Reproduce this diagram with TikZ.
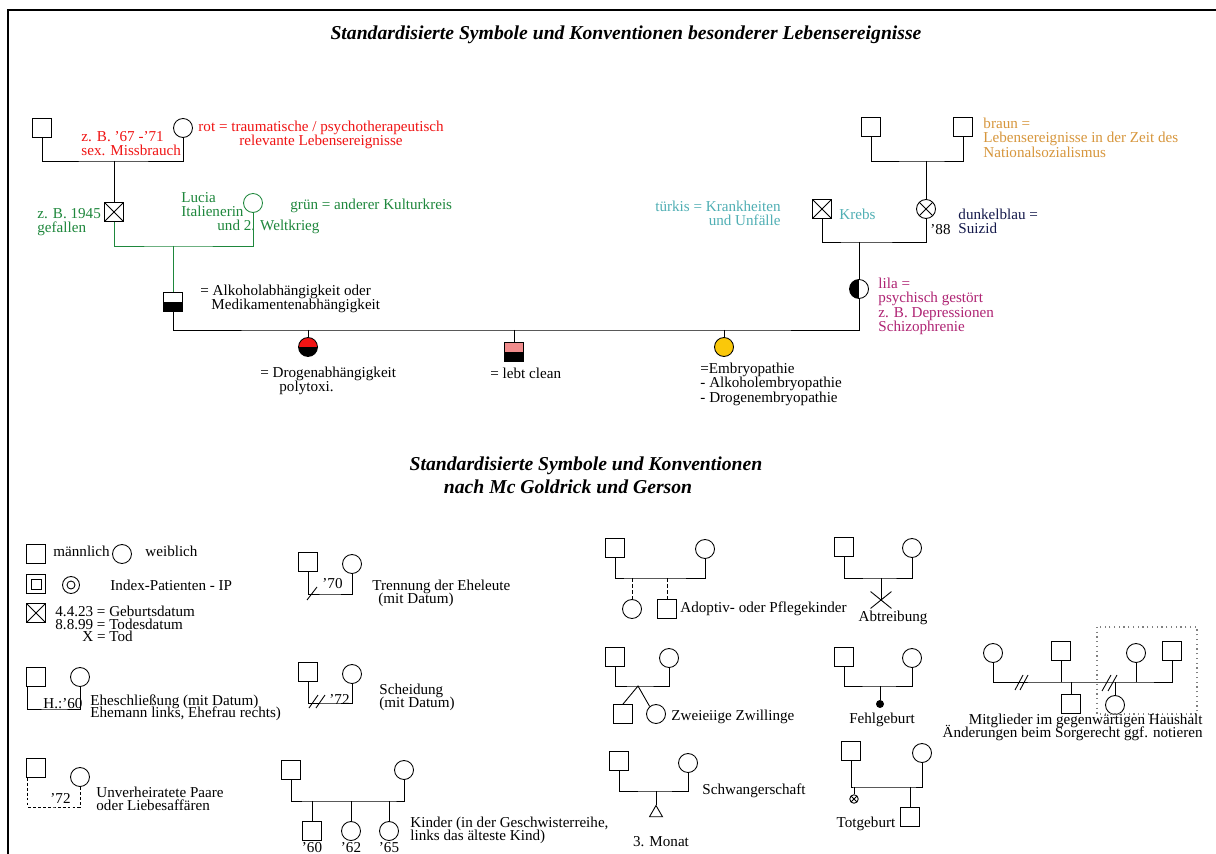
\documentclass[tikz,border=0pt]{standalone}
\usepackage{fontspec}
\setmainfont{Liberation Serif}
\usetikzlibrary{shapes.geometric,shapes.misc}
\definecolor{rot}{RGB}{240,20,20}
\definecolor{gruen}{RGB}{30,135,60}
\definecolor{tuerkis}{RGB}{80,175,180}
\definecolor{dunkelblau}{RGB}{20,25,75}
\definecolor{lila}{RGB}{175,35,115}
\definecolor{braun}{RGB}{215,150,60}
\definecolor{rosa}{RGB}{240,140,140}
\definecolor{gelb}{RGB}{250,200,10}
\newcommand\legfont{\fontsize{8.6}{7.1}\selectfont\lineskiplimit-3pt\relax}

\begin{document}
\begin{tikzpicture}
  [x=0.02cm,y=-0.02cm,line width=0.5pt,
   every node/.style={inner sep=0pt},
   male/.style={draw,rectangle,minimum size=0.38cm},
   female/.style={draw,circle,minimum size=0.38cm},
   crossed/.style={path picture={\draw (path picture bounding box.north west) -- (path picture bounding box.south east)
     (path picture bounding box.north east) -- (path picture bounding box.south west);}},
   alk/.style={path picture={\fill (path picture bounding box.west) rectangle (path picture bounding box.south east);}},
   drogen/.style={path picture={\fill[rot] (path picture bounding box.north west) rectangle (path picture bounding box.east);
     \fill (path picture bounding box.west) rectangle (path picture bounding box.south east);}},
   clean/.style={path picture={\fill[rosa] (path picture bounding box.north west) rectangle (path picture bounding box.east);
     \fill (path picture bounding box.west) rectangle (path picture bounding box.south east);}},
   psych/.style={path picture={\fill (path picture bounding box.north west) rectangle (path picture bounding box.south);}},
   ipm/.style={path picture={\draw (path picture bounding box.center) +(-0.1cm,-0.1cm) rectangle +(0.1cm,0.1cm);}},
   ipw/.style={path picture={\draw (path picture bounding box.center) circle (0.08cm);}},
   txt/.style={font=\fontsize{8.6}{8}\selectfont,align=left},
   leg/.style={font=\legfont,align=left},
   titel/.style={font=\fontsize{11.2}{13}\selectfont\bfseries\itshape},
   lose/.style={dash pattern=on 1.6pt off 1.2pt}]

  \useasboundingbox (0,0) rectangle (1216,854);
  \fill[white] (0,0) rectangle (1216,854);
  \draw[line width=1.6pt] (8,854) -- (8,10) -- (1216,10);

  \node[titel] (t1) at (626,35) {Standardisierte Symbole und Konventionen besonderer Lebensereignisse};
  \node[titel] (t2) at (586,466) {Standardisierte Symbole und Konventionen};
  \node[titel] (t3) at (568,487) {nach Mc Goldrick und Gerson};

  % Lebensereignisse
  \node[male] (gv1) at (42,128) {};
  \node[female] (gm1) at (183,128) {};
  \coordinate (e1) at (114,161);
  \node[male,crossed] (v1) at (114,212) {};
  \node[female,draw=gruen] (m1) at (253,203) {};
  \coordinate (e2) at (173,246);
  \node[male,alk] (s1) at (173,302) {};
  \draw (gv1.south) |- (e1) -| (gm1.south);
  \draw (e1) -- (v1.north);
  \draw[gruen] (v1.south) |- (e2) -| (m1.south);
  \draw[gruen] (e2) -- (s1.north);

  \node[male] (gv2) at (871,127) {};
  \node[male] (gv3) at (963,127) {};
  \coordinate (e6) at (926,161);
  \node[female,crossed] (m2) at (926,209) {};
  \node[male,crossed] (v2) at (822,209) {};
  \coordinate (e7) at (859,242);
  \node[female,psych] (li) at (859,289) {};
  \draw (gv2.south) |- (e6) -| (gv3.south);
  \draw (e6) -- (m2.north);
  \draw (v2.south) |- (e7) -| (m2.south);
  \draw (e7) -- (li.north);

  \coordinate (k1) at (308,330);
  \coordinate (k2) at (514,330);
  \coordinate (k3) at (724,330);
  \node[female,drogen] (c1) at (308,347) {};
  \node[male,clean] (c2) at (514,352) {};
  \node[female,fill=gelb] (c3) at (724,347) {};
  \draw (s1.south) |- (k1) -- (k2) -- (k3) -| (li.south);
  \foreach \from/\to in {k1/c1,k2/c2,k3/c3}
    \draw (\from) -- (\to.north);

  \node[txt,rot,anchor=north west] (l1) at (81,131) {z. B. '67 -'71\\sex. Missbrauch};
  \node[txt,rot,anchor=north west,align=center] (l2) at (198,121) {rot = traumatische / psychotherapeutisch\\relevante Lebensereignisse};
  \node[txt,gruen,anchor=north west] (l3) at (37,208) {z. B. 1945\\gefallen};
  \node[txt,gruen,anchor=north west] (l4) at (181,192) {Lucia\\Italienerin};
  \node[txt,gruen,anchor=west] (l5) at (217,227) {und 2. Weltkrieg};
  \node[txt,gruen,anchor=west] (l6) at (290,206) {grün = anderer Kulturkreis};
  \node[txt,anchor=north west] (l7) at (200,285) {= Alkoholabhängigkeit oder\\\hspace*{0.22cm}Medikamentenabhängigkeit};
  \node[txt,anchor=north west] (l8) at (260,367) {= Drogenabhängigkeit\\\hspace*{0.38cm}polytoxi.};
  \node[txt,anchor=west] (l9) at (490,373) {= lebt clean};
  \node[txt,anchor=north west] (l10) at (700,363) {=Embryopathie\\- Alkoholembryopathie\\- Drogenembryopathie};
  \node[txt,tuerkis,anchor=north east,align=right] (l11) at (781,201) {türkis = Krankheiten\\und Unfälle};
  \node[txt,tuerkis,anchor=west] (l12) at (839,214) {Krebs};
  \node[txt,anchor=west] (l13) at (930,230) {'88};
  \node[txt,dunkelblau,anchor=north west] (l14) at (958,209) {dunkelblau =\\Suizid};
  \node[txt,lila,anchor=north west] (l15) at (878,278) {lila =\\psychisch gestört\\z. B. Depressionen\\Schizophrenie};
  \node[txt,braun,anchor=north west] (l16) at (983,118) {braun =\\Lebensereignisse in der Zeit des\\Nationalsozialismus};

  % Mc Goldrick und Gerson
  \node[male] (lm) at (36,554) {};
  \node[female] (lw) at (122,554) {};
  \node[male,ipm] (pm) at (36,584) {};
  \node[female,ipw,minimum size=0.34cm] (pw) at (71,585) {};
  \node[male,crossed] (td) at (36,613) {};
  \node[leg,anchor=west] (g1) at (53,551) {männlich};
  \node[leg,anchor=west] (g2) at (145,551) {weiblich};
  \node[leg,anchor=west] (g3) at (110,585) {Index-Patienten - IP};
  \node[leg,anchor=north west] (g4) at (55,606) {4.4.23 = Geburtsdatum\\8.8.99 = Todesdatum\\\hspace*{0.54cm}X = Tod};

  \node[male] (hm) at (36,677) {};
  \node[female] (hw) at (80,677) {};
  \coordinate (h1) at (55,709);
  \draw ([xshift=1pt]hm.south west) |- (h1) -| (hw.south);
  \node[leg,anchor=base west] (g5) at (43,708) {H.:'60};
  \node[leg,anchor=north west] (g6) at (90,694) {Eheschließung (mit Datum)\\Ehemann links, Ehefrau rechts)};

  \node[male] (um) at (36,768) {};
  \node[female] (uw) at (80,777) {};
  \coordinate (u1) at (55,807);
  \draw[lose] ([xshift=1pt]um.south west) |- (u1) -| (uw.south);
  \node[leg,anchor=west] (g7) at (50,798) {'72};
  \node[leg,anchor=north west] (g8) at (96,787) {Unverheiratete Paare\\oder Liebesaffären};

  \node[male] (tm) at (308,562) {};
  \node[female] (tw) at (352,564) {};
  \coordinate (r1) at (330,594);
  \draw (tm.south) |- (r1) -| (tw.south);
  \draw (307,600) -- (317,587);
  \node[leg,anchor=west] (g9) at (322,584) {'70};
  \node[leg,anchor=north west] (g10) at (372,580) {Trennung der Eheleute\\\hspace*{0.12cm}(mit Datum)};

  \node[male] (sm) at (308,672) {};
  \node[female] (sw) at (352,674) {};
  \coordinate (r2) at (330,703);
  \draw (sm.south) |- (r2) -| (sw.south);
  \draw (309,708) -- (318,695) (316,708) -- (325,695);
  \node[leg,anchor=west] (g11) at (329,699) {'72};
  \node[leg,anchor=north west] (g12) at (379,684) {Scheidung\\(mit Datum)};

  \node[male] (km) at (291,770) {};
  \node[female] (kw) at (404,770) {};
  \coordinate (q1) at (312,801);
  \coordinate (q2) at (351,801);
  \coordinate (q3) at (389,801);
  \node[male] (k60) at (312,831) {};
  \node[female] (k62) at (351,831) {};
  \node[female] (k65) at (389,831) {};
  \draw (km.south) |- (q1) -- (q2) -- (q3) -| (kw.south);
  \foreach \from/\to in {q1/k60,q2/k62,q3/k65}
    \draw (\from) -- (\to.north);
  \node[leg,anchor=north] (g13) at (312,842) {'60};
  \node[leg,anchor=north] (g14) at (351,842) {'62};
  \node[leg,anchor=north] (g15) at (389,842) {'65};
  \node[leg,anchor=north west] (g16) at (410,817) {Kinder (in der Geschwisterreihe,\\links das älteste Kind)};

  \node[male] (am) at (615,548) {};
  \node[female] (aw) at (705,549) {};
  \coordinate (a1) at (632,578);
  \coordinate (a2) at (667,578);
  \node[female] (ac1) at (632,609) {};
  \node[male] (ac2) at (667,609) {};
  \draw (am.south) |- (a1) -- (a2) -| (aw.south);
  \foreach \from/\to in {a1/ac1,a2/ac2}
    \draw[dash pattern=on 2pt off 1.5pt] (\from) -- (\to.north);
  \node[leg,anchor=west] (g17) at (680,609) {Adoptiv- oder Pflegekinder};

  \node[male] (bm) at (844,547) {};
  \node[female] (bw) at (912,548) {};
  \coordinate (b1) at (881,578);
  \node[draw,cross out,minimum width=0.4cm,minimum height=0.32cm] (bx) at (881,600) {};
  \draw (bm.south) |- (b1) -| (bw.south);
  \draw (b1) -- (bx.center);
  \node[leg] (g18) at (893,618) {Abtreibung};

  \node[male] (zm) at (615,657) {};
  \node[female] (zw) at (669,658) {};
  \coordinate (z1) at (638,686);
  \node[male] (zc1) at (623,714) {};
  \node[female] (zc2) at (656,714) {};
  \draw (zm.south) |- (z1) -| (zw.south);
  \draw (zc1.north) -- (z1) -- (zc2.130);
  \node[leg,anchor=west] (g19) at (671,717) {Zweieiige Zwillinge};

  \node[male] (fm) at (844,657) {};
  \node[female] (fw) at (912,658) {};
  \coordinate (f1) at (880,686);
  \node[circle,fill,minimum size=0.16cm] (fc) at (880,704) {};
  \draw (fm.south) |- (f1) -| (fw.south);
  \draw (f1) -- (fc);
  \node[leg] (g20) at (882,720) {Fehlgeburt};

  \node[male] (wm) at (619,761) {};
  \node[female] (ww) at (688,763) {};
  \coordinate (w1) at (656,791);
  \node[draw,regular polygon,regular polygon sides=3,minimum size=0.3cm] (wc) at (656,813) {};
  \draw (wm.south) |- (w1) -| (ww.south);
  \draw (w1) -- (wc.north);
  \node[leg,anchor=west] (g21) at (702,791) {Schwangerschaft};
  \node[leg] (g22) at (661,842) {3. Monat};

  \node[male] (om) at (851,751) {};
  \node[female] (ow) at (922,753) {};
  \coordinate (o1) at (854,787);
  \coordinate (o2) at (910,787);
  \node[female,crossed,minimum size=0.17cm] (oc1) at (854,799) {};
  \node[male] (oc2) at (910,817) {};
  \draw (om.south) |- (o1) -- (o2) -| (ow.south);
  \foreach \from/\to in {o1/oc1,o2/oc2}
    \draw (\from) -- (\to.north);
  \node[leg] (g23) at (866,824) {Totgeburt};

  \node[female] (hh1) at (993,653) {};
  \node[male] (hh2) at (1061,651) {};
  \node[female] (hh3) at (1136,653) {};
  \node[male] (hh4) at (1172,651) {};
  \coordinate (n2) at (1061,682);
  \coordinate (n3) at (1071,682);
  \coordinate (n4) at (1115,682);
  \coordinate (n5) at (1136,682);
  \node[male] (hc1) at (1071,704) {};
  \node[female] (hc2) at (1115,705) {};
  \draw (hh1.south) |- (n2) -- (n5) -| (hh4.south);
  \draw (hh2.south) -- (n2);
  \draw (hh3.south) -- (n5);
  \foreach \from/\to in {n3/hc1,n4/hc2}
    \draw (\from) -- (\to.north);
  \draw (1015,690) -- (1023,675) (1020,690) -- (1028,675);
  \draw (1102,691) -- (1111,675) (1108,691) -- (1117,675);
  \draw[dotted,gray,line width=0.7pt] (1097,627) rectangle (1197,714);
  \node[leg,anchor=north east,align=right] (g24) at (1203,714) {Mitglieder im gegenwärtigen Haushalt\\Änderungen beim Sorgerecht ggf. notieren};
\end{tikzpicture}
\end{document}
